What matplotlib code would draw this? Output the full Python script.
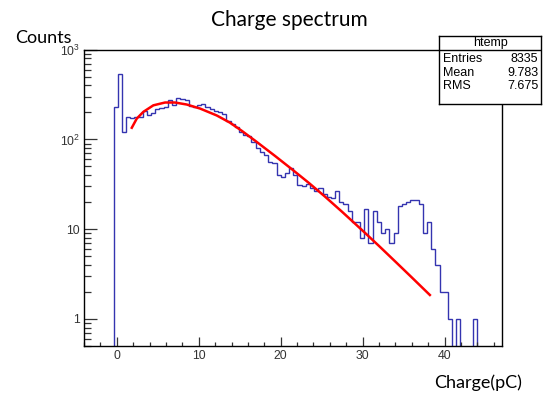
import numpy as np
import matplotlib.pyplot as plt
from matplotlib.ticker import FixedLocator, FixedFormatter, LogLocator, MultipleLocator, NullFormatter

# histogram binning (htemp) and bin contents
bin_lo = -0.4
bin_w = 0.51
counts = [228, 541, 120, 176, 172, 178, 180, 206, 186, 198,
          218, 226, 232, 278, 240, 292, 282, 272, 238, 228,
          242, 246, 230, 217, 208, 203, 190, 161, 148, 136,
          122, 112, 109, 94, 81, 73, 67, 56, 54, 40,
          38, 42, 48, 40, 31, 30, 32, 29, 27, 29,
          25, 23, 22, 27, 20, 19, 16, 12, 12, 8,
          17, 7, 16, 12, 9, 10, 7, 9, 18, 19,
          20, 21, 21, 19, 9, 12, 6, 4, 2, 2,
          1, 0, 1, 0, 0, 0, 1, 0]

# red fit curve
fit_x = [1.83, 2.44, 3.24, 4.46, 5.89, 7.11, 8.54, 10.16, 12.2, 13.8,
         15.24, 16.87, 19.3, 21.3, 23.4, 25.4, 27.5, 30.07, 32.0, 34.1,
         36.0, 38.2]
fit_y = [135, 171, 203, 240, 258, 258, 245, 221, 185, 154,
         125, 97, 65.6, 47.1, 33.0, 23.1, 15.6, 9.5, 6.5, 4.26,
         2.9, 1.85]

x_ticks = [0, 10, 20, 30, 40]
y_ticks = [1, 10, 100, 1000]
y_tick_labels = ['1', '10', r'$\mathregular{10^{2}}$', r'$\mathregular{10^{3}}$']

stats_title = 'htemp'
stats_names = ['Entries', 'Mean', 'RMS']
stats_values = ['8335', '9.783', '7.675']

plt.rcParams['font.family'] = ['Liberation Sans', 'DejaVu Sans']
plt.rcParams['mathtext.fontset'] = 'custom'
plt.rcParams['mathtext.rm'] = 'Liberation Sans'

W, H = 549, 394
fig = plt.figure(figsize=(W / 100, H / 100), dpi=100)
ax = fig.add_axes([84 / W, 1 - 346 / H, (502 - 84) / W, (346 - 49.7) / H])

edges = bin_lo + bin_w * np.arange(len(counts) + 1)
ax.stairs(counts, edges, color='#3434b0', lw=1.0)
ax.plot(fit_x, fit_y, color='#ff0000', lw=1.8)

ax.set_yscale('log')
ax.set_xlim(-4, 47)
ax.set_ylim(0.5, 1000)

ax.xaxis.set_major_locator(FixedLocator(x_ticks))
ax.xaxis.set_minor_locator(MultipleLocator(2))
ax.yaxis.set_major_locator(FixedLocator(y_ticks))
ax.yaxis.set_major_formatter(FixedFormatter(y_tick_labels))
ax.yaxis.set_minor_locator(LogLocator(base=10, subs=np.arange(2, 10)))
ax.yaxis.set_minor_formatter(NullFormatter())

ax.tick_params(axis='both', which='both', direction='in', top=False, right=False,
               color='#333333', labelcolor='#333333', labelsize=8.8, pad=3, width=0.9)
ax.tick_params(axis='y', which='major', length=9.4)
ax.tick_params(axis='y', which='minor', length=4.7)
ax.tick_params(axis='x', which='major', length=6.2)
ax.tick_params(axis='x', which='minor', length=3.1)
for s in ax.spines.values():
    s.set_linewidth(1.0)
    s.set_color('black')

# stats box
box = fig.add_axes([439 / W, 1 - 104 / H, (541 - 439) / W, (104 - 36) / H])
box.set_facecolor('white')
box.set_xticks([])
box.set_yticks([])
box.set_xlim(0, 1)
box.set_ylim(0, 1)
for s in box.spines.values():
    s.set_linewidth(1.0)
div = (104 - 50) / 68
box.axhline(div, color='black', lw=1.0)
box.text(0.5, (104 - 43.3) / 68, stats_title, ha='center', va='center', fontsize=9)
row_y = [(104 - 59.3) / 68, (104 - 72.7) / 68, (104 - 86) / 68]
for yy, name, val in zip(row_y, stats_names, stats_values):
    box.text(0.04, yy, name, ha='left', va='center', fontsize=9)
    box.text(0.975, yy, val, ha='right', va='center', fontsize=9)

fig.text(289.5 / W, 1 - 20 / H, 'Charge spectrum', ha='center', va='center',
         fontsize=15, family=['Lato', 'DejaVu Sans'])
fig.text(15 / W, 1 - 38 / H, 'Counts', ha='left', va='center',
         fontsize=13, family=['Lato', 'DejaVu Sans'])
fig.text(522 / W, 1 - 383 / H, 'Charge(pC)', ha='right', va='center',
         fontsize=13, family=['Lato', 'DejaVu Sans'])

fig.savefig('out.png', dpi=100)
